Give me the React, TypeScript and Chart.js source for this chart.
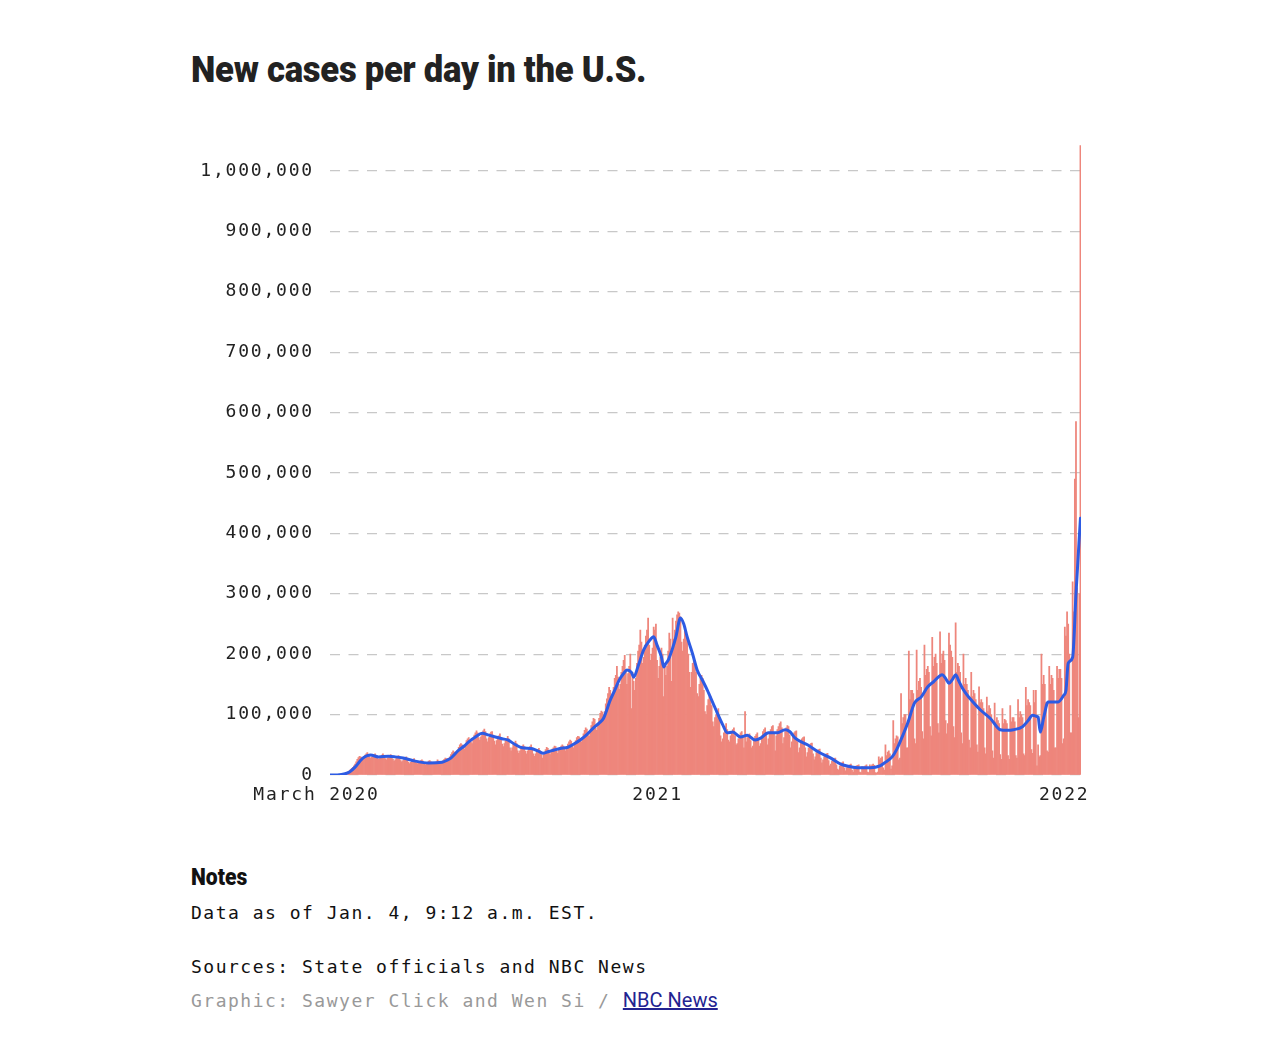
import { useEffect, useRef } from 'react';
import { Chart, registerables } from 'chart.js';

Chart.register(...registerables);

// Day index 0 = Sunday, March 1, 2020. Rows are weeks (Sun..Sat), values in thousands of new cases.
const dailyCasesByWeekK: number[][] = [
  [0.01, 0.02, 0.03, 0.04, 0.06, 0.08, 0.1],
  [0.2, 0.3, 0.5, 0.7, 1.0, 1.8, 2.5],
  [3, 4, 5.5, 7, 9, 11, 12.5],
  [15, 18, 22, 26, 29, 31, 30],
  [29, 27, 30, 33, 35, 37, 34],
  [30, 28, 30, 32, 34, 35, 32],
  [28, 26, 27, 29, 33, 35, 31],
  [27, 25, 28, 31, 32, 34, 31],
  [26, 23, 25, 30, 31, 32, 29],
  [24, 22, 24, 27, 28, 30, 27],
  [21, 19, 21, 23, 25, 27, 24],
  [20, 19, 20, 22, 24, 25, 23],
  [19, 17, 19, 21, 23, 24, 22],
  [19, 18, 19, 21, 22, 25, 23],
  [20, 19, 22, 24, 26, 28, 27],
  [27, 26, 30, 34, 37, 40, 38],
  [38, 37, 41, 46, 50, 52, 50],
  [47, 43, 50, 57, 60, 62, 55],
  [55, 52, 60, 66, 70, 73, 70],
  [62, 58, 63, 70, 73, 76, 72],
  [60, 55, 62, 68, 71, 72, 66],
  [56, 50, 57, 62, 65, 68, 62],
  [51, 47, 52, 57, 60, 64, 60],
  [45, 40, 45, 51, 53, 56, 52],
  [40, 36, 40, 45, 48, 50, 47],
  [39, 35, 40, 44, 47, 50, 45],
  [35, 31, 35, 39, 42, 44, 40],
  [34, 28, 33, 38, 42, 46, 44],
  [37, 34, 39, 43, 45, 48, 47],
  [39, 36, 41, 45, 48, 50, 48],
  [44, 40, 45, 51, 55, 58, 56],
  [48, 45, 52, 57, 62, 64, 63],
  [57, 55, 62, 68, 74, 78, 76],
  [66, 64, 73, 82, 88, 94, 92],
  [78, 74, 84, 94, 102, 106, 104],
  [100, 105, 118, 126, 135, 145, 140],
  [130, 135, 145, 160, 165, 180, 162],
  [142, 150, 170, 180, 190, 198, 172],
  [150, 168, 180, 200, 110, 170, 155],
  [140, 160, 185, 205, 215, 240, 220],
  [185, 195, 215, 230, 240, 260, 215],
  [190, 200, 210, 245, 240, 250, 190],
  [160, 180, 195, 210, 200, 130, 185],
  [165, 180, 205, 235, 225, 155, 260],
  [225, 240, 255, 265, 270, 268, 262],
  [220, 205, 225, 240, 235, 230, 200],
  [170, 145, 170, 185, 195, 190, 170],
  [135, 130, 150, 160, 165, 160, 140],
  [105, 100, 115, 125, 130, 130, 115],
  [88, 80, 95, 100, 105, 110, 95],
  [65, 55, 60, 70, 80, 85, 75],
  [58, 55, 65, 72, 75, 78, 65],
  [50, 52, 60, 66, 70, 72, 62],
  [45, 105, 55, 62, 65, 68, 57],
  [45, 48, 58, 64, 67, 70, 60],
  [48, 52, 65, 72, 75, 78, 70],
  [50, 60, 70, 75, 80, 82, 70],
  [40, 65, 75, 80, 85, 88, 78],
  [52, 62, 72, 78, 82, 80, 66],
  [45, 55, 65, 70, 72, 73, 55],
  [37, 45, 55, 60, 62, 63, 45],
  [30, 37, 45, 50, 52, 53, 35],
  [25, 30, 37, 40, 42, 43, 28],
  [20, 25, 30, 33, 35, 36, 24],
  [15, 18, 23, 26, 27, 28, 17],
  [10, 8, 15, 18, 20, 22, 12],
  [7, 12, 14, 16, 17, 18, 8],
  [5, 13, 13, 15, 16, 17, 5],
  [4, 14, 13, 14, 15, 17, 5],
  [4, 17, 14, 17, 18, 16, 4],
  [3, 5, 30, 25, 28, 30, 12],
  [8, 50, 32, 38, 40, 35, 10],
  [15, 90, 52, 60, 65, 63, 25],
  [28, 135, 85, 95, 100, 100, 45],
  [45, 205, 125, 140, 140, 135, 60],
  [52, 207, 140, 155, 160, 145, 72],
  [60, 215, 165, 175, 180, 170, 80],
  [65, 228, 180, 195, 200, 185, 85],
  [70, 237, 185, 200, 205, 190, 90],
  [68, 85, 235, 215, 205, 195, 80],
  [62, 252, 170, 185, 180, 170, 70],
  [52, 200, 150, 160, 150, 140, 58],
  [45, 170, 130, 140, 135, 125, 50],
  [38, 146, 120, 125, 120, 110, 45],
  [35, 129, 105, 115, 110, 100, 40],
  [28, 119, 88, 95, 90, 85, 34],
  [26, 110, 85, 92, 90, 85, 32],
  [26, 115, 88, 95, 95, 88, 32],
  [28, 125, 95, 105, 100, 95, 35],
  [32, 145, 115, 125, 120, 115, 42],
  [36, 140, 120, 140, 15, 50, 30],
  [32, 200, 150, 165, 150, 120, 40],
  [38, 180, 150, 165, 160, 140, 45],
  [45, 180, 160, 175, 175, 160, 52],
  [60, 245, 230, 270, 250, 200, 70],
  [70, 320, 270, 490, 585, 310, 95],
];
// Sunday Jan 2 and Monday Jan 3, 2022
const dailyCasesLastDaysK = [300, 1042];

// 7-day average (day index, thousands)
const avgDays = [
  0, 6, 13, 17, 22, 26, 29, 33, 36, 43,
  52, 58, 65, 76, 88, 100, 104, 108, 115, 120,
  124, 130, 136, 142, 148, 154, 159, 166, 172, 180,
  186, 191, 196, 200, 206, 213, 218, 224, 230, 236,
  241, 245, 251, 255, 259, 263, 266, 270, 272, 276,
  281, 286, 290, 293, 297, 299, 301, 303, 307, 310,
  314, 317, 320, 325, 329, 334, 338, 343, 347, 352,
  356, 361, 368, 374, 381, 386, 393, 401, 408, 412,
  417, 428, 438, 449, 458, 469, 478, 489, 493, 497,
  504, 508, 513, 518, 524, 530, 536, 541, 549, 552,
  555, 558, 561, 564, 567, 571, 575, 583, 592, 601,
  607, 613, 621, 626, 630, 634, 635, 637, 640, 644,
  649, 653, 658, 660, 662, 666, 669, 673,
];
const avgCasesK = [
  0, 0.2, 2, 5, 13, 22, 28, 32, 33, 30,
  31, 30, 28, 23, 20, 21, 24, 28, 41, 48,
  55, 63, 69, 66, 63, 60, 58, 50, 45, 44,
  40, 36, 39, 41, 44, 46, 51, 58, 67, 78,
  86, 94, 124, 140, 157, 168, 174, 170, 162, 180,
  207, 222, 229, 215, 195, 179, 185, 190, 210, 229,
  260, 250, 229, 200, 174, 156, 141, 120, 103, 83,
  70, 71, 63, 66, 58, 61, 70, 70, 75, 72,
  61, 50, 38, 28, 18, 13, 12, 13, 15, 20,
  30, 42, 63, 86, 119, 129, 146, 154, 166, 160,
  152, 158, 166, 155, 144, 133, 124, 108, 94, 75,
  74, 75, 80, 90, 99, 97, 96, 71, 95, 121,
  121, 121, 132, 140, 185, 195, 300, 425,
];

const xTickDays = [0, 306, 671];
const xTickLabels = ['March 2020', '2021', '2022'];
const yTickValues = [0, 100000, 200000, 300000, 400000, 500000, 600000, 700000, 800000, 900000, 1000000];

const MONO = '"DejaVu Sans Mono", monospace';

const spacingPlugin = {
  id: 'letterSpacing',
  beforeLayout(chart: any) {
    chart.ctx.letterSpacing = '1.8px';
  },
  beforeDraw(chart: any) {
    chart.ctx.letterSpacing = '1.8px';
  },
};

function CasesChart() {
  const ref = useRef<HTMLCanvasElement | null>(null);
  useEffect(() => {
    if (!ref.current) return;
    const daily = [...dailyCasesByWeekK.flat(), ...dailyCasesLastDaysK];
    const barData = daily.map((v, i) => ({ x: i, y: v * 1000 }));
    const lineData = avgDays.map((d, i) => ({ x: d, y: avgCasesK[i] * 1000 }));
    const chart = new Chart(ref.current, {
      type: 'bar',
      data: {
        datasets: [
          {
            type: 'line',
            data: lineData,
            borderColor: '#2d5be3',
            borderWidth: 3,
            pointRadius: 0,
            cubicInterpolationMode: 'monotone',
            borderJoinStyle: 'round',
            borderCapStyle: 'round',
            order: 0,
          } as any,
          {
            type: 'bar',
            data: barData,
            backgroundColor: 'rgb(238,134,124)',
            barPercentage: 1,
            categoryPercentage: 1,
            order: 1,
          } as any,
        ],
      },
      options: {
        animation: false,
        responsive: false,
        layout: { padding: { left: 0, right: 199, top: 22, bottom: 0 } },
        plugins: { legend: { display: false }, tooltip: { enabled: false } },
        scales: {
          x: {
            type: 'linear',
            min: -0.5,
            max: 673.5,
            offset: false,
            grid: { display: false, drawTicks: false },
            border: { display: false },
            afterBuildTicks: (s: any) => {
              s.ticks = xTickDays.map((v) => ({ value: v }));
            },
            afterFit: (s: any) => {
              s.height = 42;
            },
            ticks: {
              autoSkip: false,
              maxRotation: 0,
              minRotation: 0,
              padding: 10,
              labelOffset: -14,
              color: '#222',
              font: { family: MONO, size: 18 },
              callback: (v: any) => {
                const i = xTickDays.indexOf(Number(v));
                return i >= 0 ? xTickLabels[i] : '';
              },
            },
          },
          y: {
            min: 0,
            max: 1045000,
            grid: { color: '#c8c8c8', lineWidth: 1.3, drawTicks: false },
            border: { display: false, dash: [10, 8.5] },
            afterBuildTicks: (s: any) => {
              s.ticks = yTickValues.map((v) => ({ value: v }));
            },
            afterFit: (s: any) => {
              s.width = 330;
            },
            ticks: {
              padding: 16,
              color: '#222',
              font: { family: MONO, size: 18 },
              callback: (v: any) => Number(v).toLocaleString('en-US'),
            },
          },
        },
      },
      plugins: [spacingPlugin],
    });
    return () => chart.destroy();
  }, []);
  return (
    <canvas
      ref={ref}
      width={1280}
      height={700}
      style={{ position: 'absolute', left: 0, top: 117, width: 1280, height: 700 }}
    />
  );
}

export default function App() {
  const monoText: any = {
    position: 'absolute',
    left: 191,
    fontFamily: MONO,
    fontSize: 18,
    letterSpacing: '1.5px',
    lineHeight: '24px',
    whiteSpace: 'nowrap',
    margin: 0,
  };
  return (
    <div style={{ position: 'fixed', left: 0, top: 0, width: 1280, height: 1054, background: '#fff', overflow: 'hidden' }}>
      <div
        style={{
          position: 'absolute',
          left: 191,
          top: 48,
          fontFamily: 'Roboto, sans-serif',
          fontWeight: 900,
          fontSize: 37,
          lineHeight: '44px',
          letterSpacing: '-0.3px',
          color: '#222',
          whiteSpace: 'nowrap',
          transform: 'scaleX(0.937)',
          transformOrigin: 'left top',
        }}
      >
        New cases per day in the U.S.
      </div>
      <CasesChart />
      <div
        style={{
          position: 'absolute',
          left: 191,
          top: 862,
          fontFamily: 'Roboto, sans-serif',
          fontWeight: 900,
          fontSize: 24,
          lineHeight: '30px',
          color: '#111',
          whiteSpace: 'nowrap',
          transform: 'scaleX(0.88)',
          transformOrigin: 'left top',
        }}
      >
        Notes
      </div>
      <div style={{ ...monoText, top: 901, color: '#111' }}>Data as of Jan. 4, 9:12 a.m. EST.</div>
      <div style={{ ...monoText, top: 955, color: '#111' }}>Sources: State officials and NBC News</div>
      <div style={{ ...monoText, top: 988, color: '#999' }}>
        Graphic: Sawyer Click and Wen Si /{' '}
        <a
          href="#"
          style={{
            fontFamily: 'Roboto, sans-serif',
            letterSpacing: 0,
            fontSize: 20,
            color: '#232391',
            textDecoration: 'underline',
          }}
        >
          NBC News
        </a>
      </div>
    </div>
  );
}
